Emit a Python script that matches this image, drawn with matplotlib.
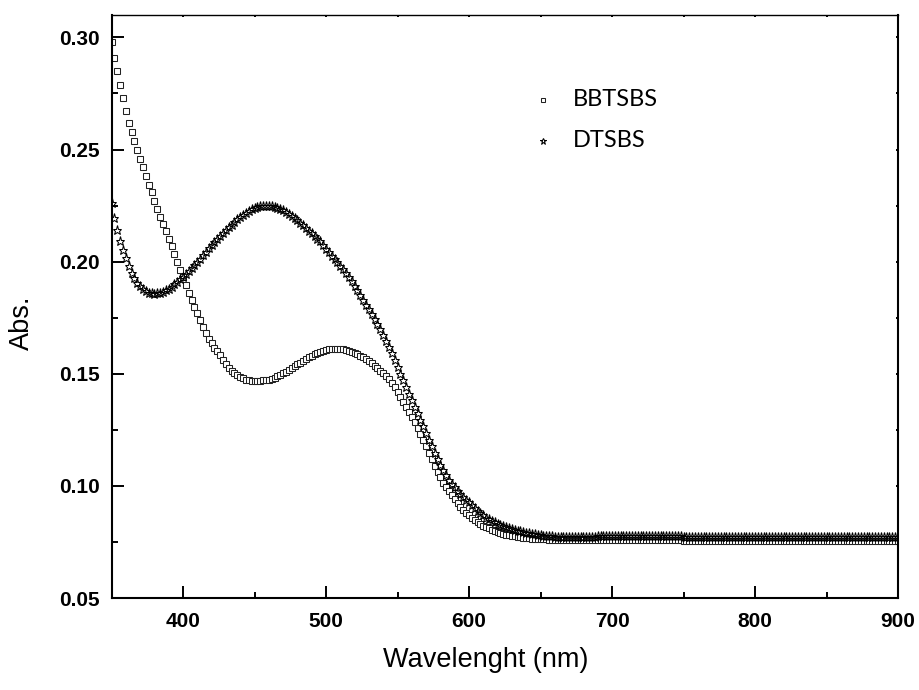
import numpy as np
import matplotlib
matplotlib.use("Agg")
import matplotlib.pyplot as plt
from matplotlib.ticker import MultipleLocator, FormatStrFormatter

# ---------------- data ----------------
wavelength = np.arange(350, 901, 2)

bbtsbs = [
    # 350-398
    0.298, 0.291, 0.285, 0.279, 0.273, 0.267, 0.262, 0.258, 0.254, 0.250,
    0.246, 0.242, 0.238, 0.234, 0.231, 0.227, 0.2235, 0.220, 0.217, 0.2135,
    0.210, 0.207, 0.2035, 0.200, 0.1965,
    # 400-448
    0.193, 0.1895, 0.186, 0.183, 0.180, 0.177, 0.174, 0.171, 0.168, 0.1655,
    0.1635, 0.1615, 0.160, 0.1583, 0.1563, 0.1543, 0.1527, 0.1514, 0.1503, 0.1494,
    0.1486, 0.1479, 0.1474, 0.1471, 0.1469,
    # 450-498
    0.1468, 0.1468, 0.1469, 0.1470, 0.1471, 0.1473, 0.1477, 0.1482, 0.1488, 0.1495,
    0.1502, 0.1510, 0.1518, 0.1526, 0.1534, 0.1542, 0.1550, 0.1558, 0.1566, 0.1574,
    0.1581, 0.1588, 0.1594, 0.1599, 0.1603,
    # 500-548
    0.1606, 0.1609, 0.1611, 0.1612, 0.1612, 0.1611, 0.1609, 0.1606, 0.1603, 0.1599,
    0.1594, 0.1588, 0.1581, 0.1573, 0.1564, 0.1555, 0.1546, 0.1536, 0.1525, 0.1514,
    0.1502, 0.1489, 0.1475, 0.1458, 0.1440,
    # 550-598
    0.1420, 0.1398, 0.1376, 0.1354, 0.1331, 0.1308, 0.1283, 0.1258, 0.1232, 0.1205,
    0.1176, 0.1147, 0.1118, 0.1090, 0.1063, 0.1038, 0.1015, 0.0995, 0.0976, 0.0958,
    0.0941, 0.0925, 0.0908, 0.0892, 0.0880,
    # 600-648
    0.0868, 0.0857, 0.0847, 0.0838, 0.0830, 0.0823, 0.0816, 0.0810, 0.0804, 0.0799,
    0.0794, 0.0790, 0.0786, 0.0782, 0.0779, 0.0777, 0.0775, 0.0773, 0.0771, 0.0769,
    0.0767, 0.0766, 0.0765, 0.0764, 0.0763,
    # 650-658
    0.0762, 0.0762, 0.0761, 0.0760, 0.0760,
    # 660-698
    0.0759, 0.0759, 0.0759, 0.0758, 0.0758, 0.0758, 0.0758, 0.0758, 0.0758, 0.0758,
    0.0758, 0.0758, 0.0758, 0.0759, 0.0759, 0.0759, 0.0759, 0.0759, 0.0759, 0.0759,
    # 700-738
    0.0759, 0.0759, 0.0759, 0.0759, 0.0759, 0.0759, 0.0759, 0.0759, 0.0759, 0.0759,
    0.0759, 0.0759, 0.0759, 0.0759, 0.0759, 0.0759, 0.0759, 0.0758, 0.0758, 0.0758,
    # 740-778
    0.0758, 0.0757, 0.0757, 0.0757, 0.0757, 0.0756, 0.0756, 0.0756, 0.0756, 0.0755,
    0.0755, 0.0755, 0.0755, 0.0755, 0.0754, 0.0754, 0.0754, 0.0754, 0.0754, 0.0754,
    # 780-818
    0.0754, 0.0754, 0.0754, 0.0754, 0.0754, 0.0754, 0.0754, 0.0754, 0.0755, 0.0755,
    0.0755, 0.0755, 0.0755, 0.0756, 0.0756, 0.0756, 0.0756, 0.0756, 0.0756, 0.0756,
    # 820-858
    0.0756, 0.0756, 0.0756, 0.0756, 0.0756, 0.0756, 0.0755, 0.0755, 0.0755, 0.0755,
    0.0755, 0.0754, 0.0754, 0.0754, 0.0754, 0.0754, 0.0754, 0.0754, 0.0754, 0.0754,
    # 860-898
    0.0754, 0.0754, 0.0754, 0.0754, 0.0754, 0.0754, 0.0755, 0.0755, 0.0755, 0.0755,
    0.0755, 0.0755, 0.0755, 0.0755, 0.0755, 0.0755, 0.0755, 0.0755, 0.0755, 0.0755,
    # 900
    0.0755,
]

dtsbs = [
    # 350-398
    0.226, 0.2195, 0.214, 0.209, 0.205, 0.2015, 0.198, 0.195, 0.1925, 0.1905,
    0.189, 0.1878, 0.1868, 0.1862, 0.1858, 0.1857, 0.1858, 0.1861, 0.1866, 0.1872,
    0.1880, 0.1889, 0.1899, 0.1910, 0.1921,
    # 400-448
    0.1933, 0.1946, 0.1959, 0.1972, 0.1985, 0.1999, 0.2014, 0.2029, 0.2044, 0.2059,
    0.2073, 0.2087, 0.2101, 0.2114, 0.2127, 0.2140, 0.2153, 0.2165, 0.2177, 0.2189,
    0.2200, 0.2210, 0.2219, 0.2228, 0.2235,
    # 450-498
    0.2241, 0.2245, 0.2248, 0.2249, 0.2249, 0.2248, 0.2246, 0.2243, 0.2239, 0.2235,
    0.2229, 0.2222, 0.2214, 0.2205, 0.2195, 0.2184, 0.2173, 0.2162, 0.2150, 0.2138,
    0.2127, 0.2116, 0.2103, 0.2090, 0.2074,
    # 500-548
    0.2058, 0.2042, 0.2027, 0.2012, 0.1997, 0.1982, 0.1966, 0.1950, 0.1932, 0.1913,
    0.1893, 0.1873, 0.1852, 0.1829, 0.1808, 0.1787, 0.1766, 0.1745, 0.1722, 0.1700,
    0.1675, 0.1648, 0.1620, 0.1592, 0.1562,
    # 550-598
    0.1531, 0.1500, 0.1470, 0.1440, 0.1411, 0.1382, 0.1353, 0.1324, 0.1295, 0.1265,
    0.1235, 0.1205, 0.1176, 0.1148, 0.1120, 0.1094, 0.1070, 0.1047, 0.1028, 0.1010,
    0.0993, 0.0978, 0.0964, 0.0951, 0.0938,
    # 600-648
    0.0926, 0.0914, 0.0902, 0.0890, 0.0878, 0.0868, 0.0859, 0.0851, 0.0844, 0.0837,
    0.0831, 0.0826, 0.0821, 0.0816, 0.0812, 0.0808, 0.0804, 0.0800, 0.0797, 0.0794,
    0.0791, 0.0788, 0.0786, 0.0784, 0.0782,
    # 650-658
    0.0780, 0.0778, 0.0777, 0.0776, 0.0775,
    # 660-698
    0.0774, 0.0773, 0.0773, 0.0772, 0.0772, 0.0772, 0.0772, 0.0772, 0.0772, 0.0773,
    0.0773, 0.0773, 0.0774, 0.0774, 0.0774, 0.0775, 0.0775, 0.0775, 0.0776, 0.0776,
    # 700-738
    0.0776, 0.0776, 0.0777, 0.0777, 0.0777, 0.0777, 0.0778, 0.0778, 0.0778, 0.0778,
    0.0778, 0.0778, 0.0778, 0.0778, 0.0778, 0.0777, 0.0777, 0.0777, 0.0777, 0.0776,
    # 740-778
    0.0776, 0.0776, 0.0775, 0.0775, 0.0775, 0.0774, 0.0774, 0.0773, 0.0773, 0.0773,
    0.0772, 0.0772, 0.0772, 0.0772, 0.0771, 0.0771, 0.0771, 0.0771, 0.0771, 0.0771,
    # 780-818
    0.0771, 0.0771, 0.0771, 0.0772, 0.0772, 0.0772, 0.0772, 0.0773, 0.0773, 0.0773,
    0.0773, 0.0773, 0.0773, 0.0774, 0.0774, 0.0774, 0.0774, 0.0774, 0.0774, 0.0774,
    # 820-858
    0.0774, 0.0774, 0.0774, 0.0774, 0.0774, 0.0773, 0.0773, 0.0773, 0.0772, 0.0772,
    0.0772, 0.0771, 0.0771, 0.0771, 0.0770, 0.0770, 0.0770, 0.0770, 0.0770, 0.0770,
    # 860-898
    0.0770, 0.0770, 0.0770, 0.0770, 0.0770, 0.0771, 0.0771, 0.0771, 0.0771, 0.0771,
    0.0771, 0.0771, 0.0771, 0.0771, 0.0770, 0.0770, 0.0770, 0.0770, 0.0770, 0.0770,
    # 900
    0.0770,
]

series_names = ["BBTSBS", "DTSBS"]
x_ticks = [400, 500, 600, 700, 800, 900]
y_ticks = [0.05, 0.10, 0.15, 0.20, 0.25, 0.30]

# ---------------- figure ----------------
W, H = 919, 690
fig = plt.figure(figsize=(W / 100, H / 100), dpi=100)
ax = fig.add_axes([111.5 / W, 1 - 598 / H, (898 - 111.5) / W, (598 - 15) / H])

ax.plot(wavelength, bbtsbs, linestyle="none", marker="s", markersize=4.7,
        markerfacecolor="white", markeredgecolor="#222222", markeredgewidth=0.75,
        label=series_names[0])
ax.plot(wavelength, dtsbs, linestyle="none", marker="*", markersize=6.5,
        markerfacecolor="none", markeredgecolor="black", markeredgewidth=0.75,
        label=series_names[1])

ax.set_xlim(350, 900)
ax.set_ylim(0.05, 0.31)
ax.set_xticks(x_ticks)
ax.set_yticks(y_ticks)
ax.xaxis.set_minor_locator(MultipleLocator(50))
ax.yaxis.set_minor_locator(MultipleLocator(0.025))
ax.yaxis.set_major_formatter(FormatStrFormatter("%.2f"))

for lab in ax.get_xticklabels() + ax.get_yticklabels():
    lab.set_fontfamily("Liberation Sans")
    lab.set_fontweight("bold")
    lab.set_fontsize(15)

ax.tick_params(axis="both", which="major", direction="in", length=8.6, width=1.4)
ax.tick_params(axis="both", which="minor", direction="in", length=4.6, width=1.4)
ax.tick_params(axis="x", which="major", pad=10)
ax.tick_params(axis="y", which="major", pad=8.5)
ax.tick_params(which="both", top=True, right=True)
for t in ax.xaxis.get_major_ticks() + ax.xaxis.get_minor_ticks():
    t.tick2line.set_markersize(1.5)
for t in ax.yaxis.get_major_ticks() + ax.yaxis.get_minor_ticks():
    t.tick2line.set_markersize(1.5)

for side in ["left", "bottom", "right"]:
    ax.spines[side].set_linewidth(1.5)
ax.spines["top"].set_linewidth(1.0)

ax.set_xlabel("Wavelenght (nm)", family="Liberation Sans", fontsize=19.5, va="center")
ax.xaxis.set_label_coords(486 / W, 1 - 660 / H, transform=fig.transFigure)
ax.set_ylabel("Abs.", family="Liberation Sans", fontsize=19.5, va="center")
ax.yaxis.set_label_coords(22 / W, 1 - 323 / H, transform=fig.transFigure)

leg = ax.legend(loc="upper left", bbox_to_anchor=(519 / W, 1 - 77 / H),
                bbox_transform=fig.transFigure, frameon=False,
                prop=dict(family="Lato", size=17), markerscale=0.7,
                handlelength=1.0, handletextpad=0.8, handleheight=0.0,
                borderpad=0.0, labelspacing=0.85)

fig.savefig("out.png", dpi=100)
